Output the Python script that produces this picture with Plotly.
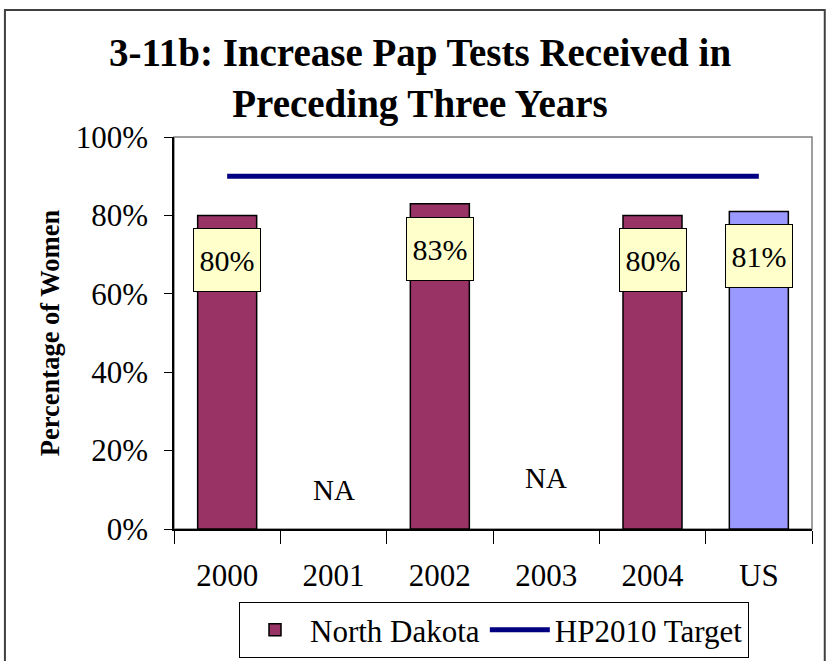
import plotly.graph_objects as go

categories = ["2000", "2001", "2002", "2003", "2004", "US"]
nd_values = [80, None, 83, None, 80, 81]
target_values = [90, 90, 90, 90, 90, 90]
label_texts = ["80%", None, "83%", None, "80%", "81%"]
na_categories = ["2001", "2003"]
na_label_y = [10, 13]

MAROON = "#993366"
LAVENDER = "#9999FF"
NAVY = "#000080"
FONT = "Liberation Serif, Times New Roman, serif"

bar_colors = [LAVENDER if c == "US" else MAROON for c in categories]

fig = go.Figure()
fig.add_trace(go.Bar(
    x=categories, y=nd_values, name="North Dakota",
    marker=dict(color=bar_colors, line=dict(color="black", width=1.5)),
    hoverinfo="x+y",
))
fig.add_trace(go.Scatter(
    x=categories, y=target_values, name="HP2010 Target", mode="lines",
    line=dict(color=NAVY, width=5),
))

annotations = []
for i, (c, v, t) in enumerate(zip(categories, nd_values, label_texts)):
    if v is None or t is None:
        continue
    annotations.append(dict(
        x=i, y=v, xref="x", yref="y", text=t, showarrow=False,
        yanchor="middle", yshift=-45, width=64, height=60,
        bgcolor="#FFFFCC", bordercolor="black", borderwidth=1,
        font=dict(family=FONT, size=30, color="black"),
    ))
for c, yv in zip(na_categories, na_label_y):
    annotations.append(dict(
        x=categories.index(c), y=yv, xref="x", yref="y", text="NA", showarrow=False,
        font=dict(family=FONT, size=29, color="black"),
    ))

fig.update_layout(
    width=829, height=661,
    margin=dict(l=174, r=17, t=137, b=132),
    paper_bgcolor="white", plot_bgcolor="white",
    font=dict(family=FONT, size=31, color="black"),
    title=dict(
        text="<b>3-11b: Increase Pap Tests Received in<br>Preceding Three Years</b>",
        x=420 / 829, xanchor="center", xref="container",
        y=0.900, yanchor="top", yref="container",
        font=dict(family=FONT, size=39, color="black"),
    ),
    bargap=0.445,
    showlegend=True,
    legend=dict(
        orientation="h", x=494 / 829, xanchor="center", xref="container",
        y=1 - 602 / 661, yanchor="top", yref="container",
        bordercolor="black", borderwidth=1, bgcolor="white",
        font=dict(family=FONT, size=31, color="black"),
        itemwidth=60, traceorder="normal",
    ),
    annotations=annotations,
    shapes=[
        dict(type="rect", xref="paper", yref="paper", x0=0, x1=1, y0=0, y1=1,
             line=dict(color="#808080", width=1.5), layer="below"),
        dict(type="rect", xref="paper", yref="paper", x0=-0.265, x1=1.02, y0=-0.4, y1=1.324,
             line=dict(color="#404040", width=2), layer="below"),
    ],
)
fig.update_xaxes(
    type="category", range=[-0.5, 5.5], automargin=False,
    showline=True, linecolor="black", linewidth=1.5,
    ticks="outside", tickson="boundaries", ticklen=13, tickcolor="black",
    ticklabelstandoff=18, showgrid=False,
    tickfont=dict(family=FONT, size=31),
)
fig.update_yaxes(
    range=[0, 100], dtick=20, ticksuffix="%", automargin=False,
    showline=True, linecolor="black", linewidth=1.5,
    ticks="outside", ticklen=8, tickcolor="black",
    ticklabelstandoff=10, showgrid=False, zeroline=False,
    tickfont=dict(family=FONT, size=31),
    title=dict(text="<b>Percentage of Women</b>", standoff=8,
               font=dict(family=FONT, size=26.5)),
)

fig.write_html("out.html", config={"displayModeBar": False},
               post_script="document.body.style.margin='0px';")
